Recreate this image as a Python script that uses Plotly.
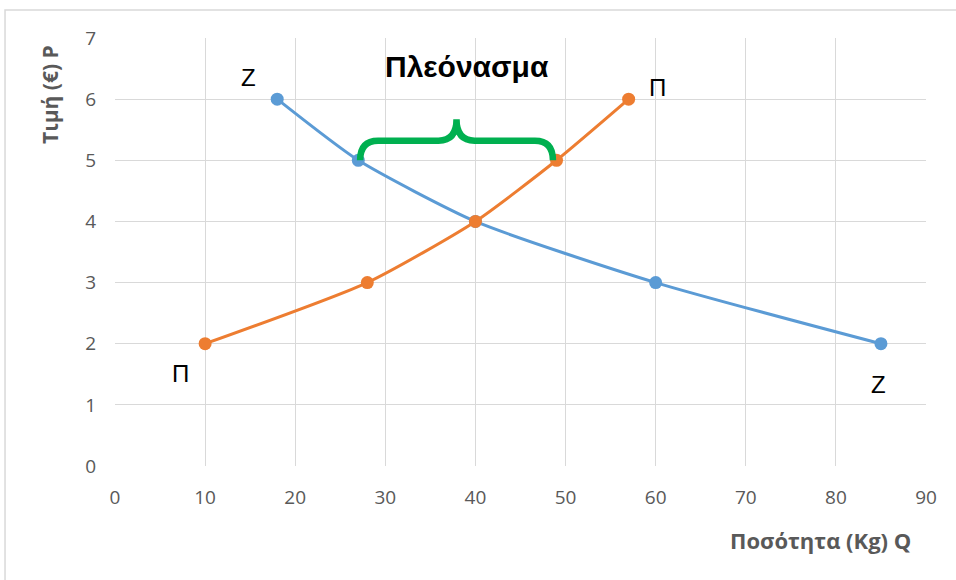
import plotly.graph_objects as go

# Demand (Z) and supply (Π) schedules
demand_q = [18, 27, 40, 60, 85]
demand_p = [6, 5, 4, 3, 2]
supply_q = [10, 28, 40, 49, 57]
supply_p = [2, 3, 4, 5, 6]

x_ticks = [0, 10, 20, 30, 40, 50, 60, 70, 80, 90]
y_ticks = [0, 1, 2, 3, 4, 5, 6, 7]

surplus_price = 5
surplus_label = "Πλεόνασμα"

BLUE = "#5B9BD5"
ORANGE = "#ED7D31"
GREEN = "#00B050"
GREY = "#595959"

fig = go.Figure()
fig.add_trace(go.Scatter(x=demand_q, y=demand_p, mode="lines+markers",
                         line=dict(color=BLUE, width=3, shape="spline", smoothing=0.6),
                         marker=dict(color=BLUE, size=13), showlegend=False))
fig.add_trace(go.Scatter(x=supply_q, y=supply_p, mode="lines+markers",
                         line=dict(color=ORANGE, width=3, shape="spline", smoothing=0.6),
                         marker=dict(color=ORANGE, size=13), showlegend=False))

# Curly brace over the surplus at P = 5
x0 = demand_q[demand_p.index(surplus_price)] + 0.2
x1 = supply_q[supply_p.index(surplus_price)] - 0.4
xm = (x0 + x1) / 2
yb = surplus_price
ya = surplus_price + 0.32
yp = surplus_price + 0.67
r = 2.0
path = (f"M {x0},{yb} Q {x0},{ya} {x0 + r},{ya} L {xm - r},{ya} "
        f"Q {xm},{ya} {xm},{yp} Q {xm},{ya} {xm + r},{ya} "
        f"L {x1 - r},{ya} Q {x1},{ya} {x1},{yb}")
fig.add_shape(type="path", path=path, xref="x", yref="y",
              line=dict(color=GREEN, width=6.5))

# outer frame
fig.add_shape(type="rect", xref="paper", yref="paper", x0=-0.1356, x1=1.1, y0=-0.4, y1=1.0654,
              line=dict(color="#D9D9D9", width=1.5), layer="below")

lab_font = dict(family="Liberation Sans, Arial", size=24, color="black")
fig.add_annotation(x=14.8, y=6.35, text="Z", showarrow=False, font=lab_font)
fig.add_annotation(x=60.2, y=6.19, text="Π", showarrow=False, font=lab_font)
fig.add_annotation(x=7.3, y=1.52, text="Π", showarrow=False, font=lab_font)
fig.add_annotation(x=84.7, y=1.33, text="Z", showarrow=False, font=lab_font)
fig.add_annotation(x=39.1, y=6.53, text=f"<b>{surplus_label}</b>", showarrow=False,
                   font=dict(family="Liberation Sans, Arial", size=30, color="black"))

# axis titles
fig.add_annotation(xref="paper", yref="paper", x=(50 - 115) / 811, y=(466 - 95) / 428,
                   xanchor="center", yanchor="middle",
                   text="<b>Τιμή (€) P</b>", textangle=-90, showarrow=False,
                   font=dict(family="Open Sans", size=21, color=GREY))
fig.add_annotation(xref="paper", yref="paper", x=(913 - 115) / 811, y=(466 - 540) / 428,
                   xanchor="right", yanchor="middle", text="<b>Ποσότητα (Kg) Q</b>", showarrow=False,
                   font=dict(family="Open Sans", size=22, color=GREY))

fig.update_layout(
    width=956, height=580,
    margin=dict(l=115, r=30, t=38, b=114),
    paper_bgcolor="white", plot_bgcolor="white",
    xaxis=dict(range=[0, 90], tickvals=x_ticks, showgrid=True, gridcolor="#D9D9D9",
               gridwidth=1, zeroline=False, showline=False, ticks="",
               ticklabelstandoff=18,
               tickfont=dict(family="Open Sans", size=19, color=GREY)),
    yaxis=dict(range=[0, 7], tickvals=y_ticks, showgrid=True, gridcolor="#D9D9D9",
               gridwidth=1, zeroline=False, showline=False, ticks="",
               ticklabelstandoff=18,
               tickfont=dict(family="Open Sans", size=19, color=GREY)),
)

fig.write_html("out.html", config={"displayModeBar": False},
               post_script="document.body.style.margin='0px';")
